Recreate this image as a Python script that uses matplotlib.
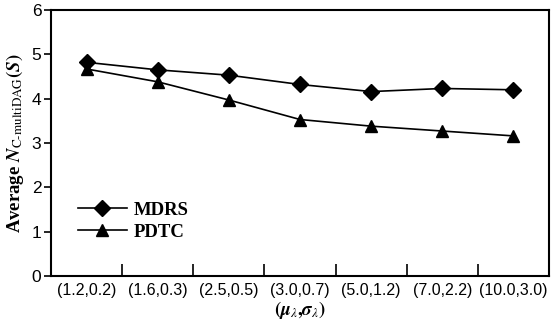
import numpy as np
import matplotlib.pyplot as plt

plt.rcParams['mathtext.fontset'] = 'stix'

categories = ['(1.2,0.2)', '(1.6,0.3)', '(2.5,0.5)', '(3.0,0.7)',
              '(5.0,1.2)', '(7.0,2.2)', '(10.0,3.0)']
mdrs = [4.82, 4.65, 4.53, 4.32, 4.16, 4.23, 4.20]
pdtc = [4.67, 4.38, 3.97, 3.53, 3.38, 3.27, 3.16]

fig = plt.figure(figsize=(5.56, 3.24), dpi=100)
ax = fig.add_axes([51 / 556, 48 / 324, 498 / 556, 266 / 324])

x = np.arange(len(categories))
ax.plot(x, mdrs, 'k-', marker='D', markersize=8, linewidth=1.2, label='MDRS')
ax.plot(x, pdtc, 'k-', marker='^', markersize=9, linewidth=1.2, label='PDTC')

ax.set_xlim(-0.5, len(categories) - 0.5)
ax.set_ylim(0, 6)

# boundary ticks (no labels), category labels on minor ticks
ax.set_xticks(x[:-1] + 0.5)
ax.set_xticklabels([])
ax.tick_params(axis='x', which='major', direction='in', length=9, width=1.2)
ax.set_xticks(x, minor=True)
ax.set_xticklabels(categories, minor=True, fontfamily='Liberation Sans', fontsize=11.5)
ax.tick_params(axis='x', which='minor', length=0, pad=5)

ax.set_yticks(range(7))
ax.tick_params(axis='y', direction='out', length=5, width=1.2, pad=2,
               labelsize=12.5)
for lab in ax.get_yticklabels():
    lab.set_fontfamily('Liberation Sans')

for s in ax.spines.values():
    s.set_linewidth(1.5)

ax.set_ylabel(r'Average $\mathbfit{N}_{\mathrm{C\text{-}multiDAG}}\mathbf{(}\mathbfit{S}\mathbf{)}$',
              fontfamily='Liberation Serif', fontweight='bold', fontsize=13.5, labelpad=4)
ax.set_xlabel(r'$\mathbf{(}\mathbfit{\mu}_\lambda\mathbf{,}\mathbfit{\sigma}_\lambda\mathbf{)}$',
              fontsize=13.5, labelpad=1)

leg = ax.legend(loc='lower left', bbox_to_anchor=(0.02, 0.07), frameon=False,
                prop={'family': 'Liberation Serif', 'weight': 'bold', 'size': 13.5},
                handlelength=2.6, handletextpad=0.4, labelspacing=0.25)

fig.savefig('out.png', dpi=100)
